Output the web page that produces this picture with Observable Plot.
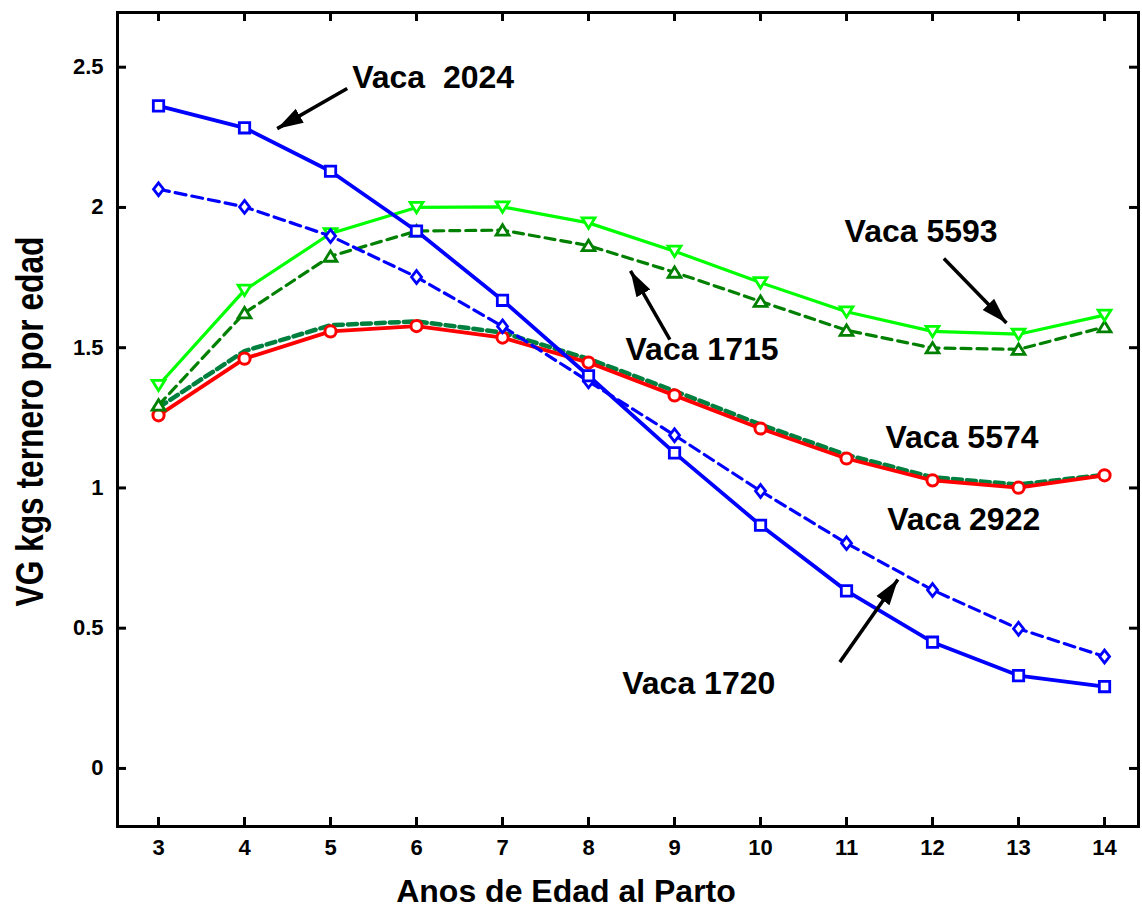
<!DOCTYPE html>
<html><head><meta charset="utf-8">
<script src="https://cdn.jsdelivr.net/npm/d3@7"></script>
<script src="https://cdn.jsdelivr.net/npm/@observablehq/plot@0.6"></script>
<style>
html,body{margin:0;padding:0;background:#fff;}
svg text{white-space:pre;}
</style></head><body><div id="chart"></div>
<script>
// ---- data ----
const ages = [3, 4, 5, 6, 7, 8, 9, 10, 11, 12, 13, 14];
const vaca2024 = [2.362, 2.284, 2.129, 1.916, 1.669, 1.400, 1.125, 0.867, 0.633, 0.450, 0.331, 0.292];
const vaca1720 = [2.065, 2.002, 1.898, 1.752, 1.576, 1.380, 1.188, 0.989, 0.803, 0.636, 0.498, 0.399];
const vaca5593 = [1.366, 1.705, 1.907, 2.000, 2.002, 1.945, 1.844, 1.732, 1.628, 1.558, 1.548, 1.616];
const vaca1715 = [1.295, 1.624, 1.826, 1.916, 1.919, 1.864, 1.769, 1.665, 1.562, 1.499, 1.494, 1.574];
const vaca5574 = [1.259, 1.461, 1.558, 1.577, 1.536, 1.447, 1.330, 1.212, 1.105, 1.027, 1.001, 1.045];
const vaca2922 = [1.287, 1.488, 1.580, 1.594, 1.554, 1.460, 1.346, 1.226, 1.118, 1.038, 1.012, 1.047];

const xTicks = [3, 4, 5, 6, 7, 8, 9, 10, 11, 12, 13, 14];
const yTicks = [0, 0.5, 1, 1.5, 2, 2.5];
const xTitle = "Anos de Edad al Parto";
const yTitle = "VG kgs ternero por edad";

// annotation labels (data units)
const labelText = ["Vaca  2024", "Vaca 5593", "Vaca 1715", "Vaca 5574", "Vaca 2922", "Vaca 1720"];
const labelX = [5.252, 10.977, 8.43, 11.453, 11.473, 8.392];
const labelY = [2.462, 1.913, 1.494, 1.179, 0.888, 0.302];
// arrows (tail -> head, data units)
const arrowX1 = [5.194, 12.132, 8.946, 10.922];
const arrowY1 = [2.424, 1.818, 1.529, 0.379];
const arrowX2 = [4.380, 12.860, 8.488, 11.597];
const arrowY2 = [2.281, 1.588, 1.774, 0.674];

// ---- layout / style ----
const W = 1142, H = 909;
const mL = 117, mR = 4, mT = 12, mB = 83;
const innerW = W - mL - mR, innerH = H - mT - mB;
const tickLen = 9;
const FONT = "'Liberation Sans', Arial, Helvetica, sans-serif";

const sq = {draw(c) { const h = 5.2; c.moveTo(-h, -h); c.lineTo(h, -h); c.lineTo(h, h); c.lineTo(-h, h); c.closePath(); }};
const dia = {draw(c) { c.moveTo(0, -6.4); c.lineTo(5, 0); c.lineTo(0, 6.4); c.lineTo(-5, 0); c.closePath(); }};
const triDown = {draw(c) { c.moveTo(-6.4, -5); c.lineTo(6.4, -5); c.lineTo(0, 5.4); c.closePath(); }};
const triUp = {draw(c) { c.moveTo(-6.4, 5); c.lineTo(6.4, 5); c.lineTo(0, -5.4); c.closePath(); }};

const series = [
  {values: vaca2922, color: "#00803f", dash: "9,5", width: 4.5, symbol: null},
  {values: vaca5574, color: "#ff0000", dash: null, width: 3.8, symbol: "circle"},
  {values: vaca1715, color: "#008000", dash: "10,6", width: 3.2, symbol: triUp},
  {values: vaca5593, color: "#00ff00", dash: null, width: 3.2, symbol: triDown},
  {values: vaca1720, color: "#0000ff", dash: "11,6", width: 3.2, symbol: dia},
  {values: vaca2024, color: "#0000ff", dash: null, width: 3.8, symbol: sq}
];

const marks = [];
for (const s of series) {
  const rows = ages.map((a, i) => ({age: a, v: s.values[i]}));
  marks.push(Plot.line(rows, {x: "age", y: "v", stroke: s.color, strokeWidth: s.width, strokeDasharray: s.dash}));
  if (s.symbol === "circle") {
    marks.push(Plot.dot(rows, {x: "age", y: "v", r: 5.6, stroke: s.color, strokeWidth: 3, fill: "white"}));
  } else if (s.symbol) {
    marks.push(Plot.dot(rows, {x: "age", y: "v", symbol: s.symbol, stroke: s.color, strokeWidth: 2.8, fill: "white"}));
  }
}

const labels = labelText.map((t, i) => ({t, x: labelX[i], y: labelY[i]}));
const arrows = arrowX1.map((d, i) => ({x1: arrowX1[i], y1: arrowY1[i], x2: arrowX2[i], y2: arrowY2[i]}));

const chart = Plot.plot({
  width: W, height: H,
  marginLeft: mL, marginRight: mR, marginTop: mT, marginBottom: mB,
  style: {fontFamily: FONT, fontWeight: "bold", background: "white", color: "black"},
  x: {domain: [2.523, 14.395]},
  y: {domain: [-0.207, 2.695]},
  marks: [
    ...marks,
    Plot.link(arrows, {x1: "x1", y1: "y1", x2: "x2", y2: "y2", stroke: "black", strokeWidth: 3.5}),
    Plot.text(labels, {x: "x", y: "y", text: "t", textAnchor: "start", fontSize: 32, fontWeight: "bold", fill: "black"}),
    Plot.tickX(xTicks, {x: d => d, stroke: "black", strokeWidth: 3, insetTop: innerH - tickLen}),
    Plot.tickX(xTicks, {x: d => d, stroke: "black", strokeWidth: 3, insetBottom: innerH - tickLen}),
    Plot.tickY(yTicks, {y: d => d, stroke: "black", strokeWidth: 3, insetRight: innerW - tickLen}),
    Plot.tickY(yTicks, {y: d => d, stroke: "black", strokeWidth: 3, insetLeft: innerW - tickLen}),
    Plot.frame({stroke: "black", strokeWidth: 3}),
    Plot.axisX({ticks: xTicks, tickSize: 0, tickPadding: 13, tickFormat: d => String(d), fontSize: 22, label: null}),
    Plot.axisY({ticks: yTicks, tickSize: 0, tickPadding: 14, tickFormat: d => String(d), fontSize: 22, label: null}),
    Plot.text([xTitle], {text: d => d, frameAnchor: "bottom", dx: -62, dy: 75, fontSize: 32, fontWeight: "bold", fill: "black"}),
    Plot.text([yTitle], {text: d => d, frameAnchor: "left", textAnchor: "middle", rotate: -90, dx: -87, dy: 2, fontSize: 38, fontWeight: "bold", fill: "black"})
  ]
});

// filled arrowheads
const svg = d3.select(chart);
const defs = svg.insert("defs", ":first-child");
defs.append("marker")
  .attr("id", "ahead").attr("viewBox", "-26 -9 26 18")
  .attr("refX", 0).attr("refY", 0)
  .attr("markerWidth", 26).attr("markerHeight", 18)
  .attr("markerUnits", "userSpaceOnUse").attr("orient", "auto")
  .append("path").attr("d", "M-26,-8L0,0L-26,8Z").attr("fill", "black");
svg.selectAll("g[aria-label='link'] path").attr("marker-end", "url(#ahead)");
// condensed y title
svg.selectAll("text").filter(function() { return this.textContent === yTitle; })
  .attr("textLength", 370).attr("lengthAdjust", "spacingAndGlyphs");

document.getElementById("chart").appendChild(chart);
</script>
</body></html>
